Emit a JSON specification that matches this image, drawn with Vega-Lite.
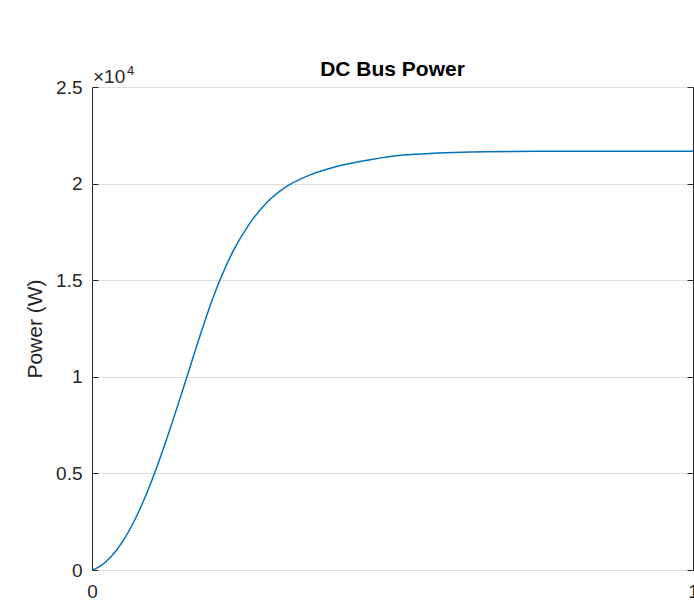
{
  "$schema": "https://vega.github.io/schema/vega-lite/v6.json",
  "autosize": "none",
  "width": 601,
  "height": 483,
  "padding": {"left": 92, "top": 87, "right": 1, "bottom": 31},
  "background": "white",
  "config": {
    "font": "Liberation Sans",
    "view": {"stroke": "#262626", "strokeWidth": 1},
    "axis": {
      "labelFont": "Liberation Sans",
      "titleFont": "Liberation Sans",
      "labelColor": "#262626",
      "titleColor": "#262626",
      "domainColor": "#262626",
      "tickColor": "#262626",
      "labelFontSize": 19,
      "titleFontSize": 21,
      "titleFontWeight": "normal"
    }
  },
  "title": {
    "text": "DC Bus Power",
    "font": "Liberation Sans",
    "fontSize": 21,
    "fontWeight": "bold",
    "color": "#000000",
    "anchor": "middle",
    "frame": "group",
    "baseline": "alphabetic",
    "offset": 10,
    "dy": 42
  },
  "data": {
    "values": [
      {"t": 0.0, "power": 0},
      {"t": 0.01, "power": 137},
      {"t": 0.015, "power": 230},
      {"t": 0.03, "power": 630},
      {"t": 0.052, "power": 1520},
      {"t": 0.08, "power": 3170},
      {"t": 0.105, "power": 5080},
      {"t": 0.13, "power": 7310},
      {"t": 0.16, "power": 10200},
      {"t": 0.18, "power": 12150},
      {"t": 0.2, "power": 13970},
      {"t": 0.213, "power": 15020},
      {"t": 0.235, "power": 16520},
      {"t": 0.263, "power": 17970},
      {"t": 0.291, "power": 19020},
      {"t": 0.324, "power": 19850},
      {"t": 0.363, "power": 20450},
      {"t": 0.407, "power": 20890},
      {"t": 0.463, "power": 21240},
      {"t": 0.518, "power": 21480},
      {"t": 0.574, "power": 21580},
      {"t": 0.63, "power": 21640},
      {"t": 0.7, "power": 21665},
      {"t": 0.8, "power": 21675},
      {"t": 0.9, "power": 21672},
      {"t": 1.0, "power": 21675}
    ]
  },
  "layer": [
    {
      "mark": {"type": "line", "color": "#0072BD", "strokeWidth": 1.5, "interpolate": "monotone", "clip": true},
      "encoding": {
        "x": {
          "field": "t",
          "type": "quantitative",
          "scale": {"domain": [0, 1], "nice": false, "zero": false},
          "axis": {
            "values": [0, 1],
            "labelExpr": "format(datum.value, '')",
            "title": null,
            "grid": false,
            "domain": false,
            "tickSize": -6,
            "labelPadding": 18,
            "labelFlush": false,
            "labelBaseline": "top"
          }
        },
        "y": {
          "field": "power",
          "type": "quantitative",
          "scale": {"domain": [0, 25000], "nice": false},
          "axis": {
            "values": [0, 5000, 10000, 15000, 20000, 25000],
            "labelExpr": "format(datum.value / 10000, '')",
            "title": "Power (W)",
            "titlePadding": 10,
            "grid": true,
            "gridColor": "#dedede",
            "domain": false,
            "tickSize": -6,
            "labelPadding": 16,
            "labelFlush": false
          }
        }
      }
    },
    {
      "data": {"values": [{"t": 0, "power": 25000, "base": "×10", "exp": "4"}]},
      "layer": [
        {
          "mark": {"type": "text", "align": "left", "baseline": "alphabetic", "dy": -4, "dx": 1, "fontSize": 19, "color": "#262626", "font": "Liberation Sans"},
          "encoding": {
            "x": {"field": "t", "type": "quantitative"},
            "y": {
              "field": "power",
              "type": "quantitative",
              "scale": {"domain": [0, 25000], "nice": false},
              "axis": {
                "orient": "right",
                "values": [0, 5000, 10000, 15000, 20000, 25000],
                "labels": false,
                "title": null,
                "grid": false,
                "domain": false,
                "tickSize": -6
              }
            },
            "text": {"field": "base"}
          }
        },
        {
          "mark": {"type": "text", "align": "left", "baseline": "alphabetic", "dy": -12, "dx": 35, "fontSize": 13, "color": "#262626", "font": "Liberation Sans"},
          "encoding": {
            "x": {"field": "t", "type": "quantitative"},
            "y": {"field": "power", "type": "quantitative"},
            "text": {"field": "exp"}
          }
        }
      ]
    }
  ],
  "resolve": {"scale": {"y": "independent"}}
}
